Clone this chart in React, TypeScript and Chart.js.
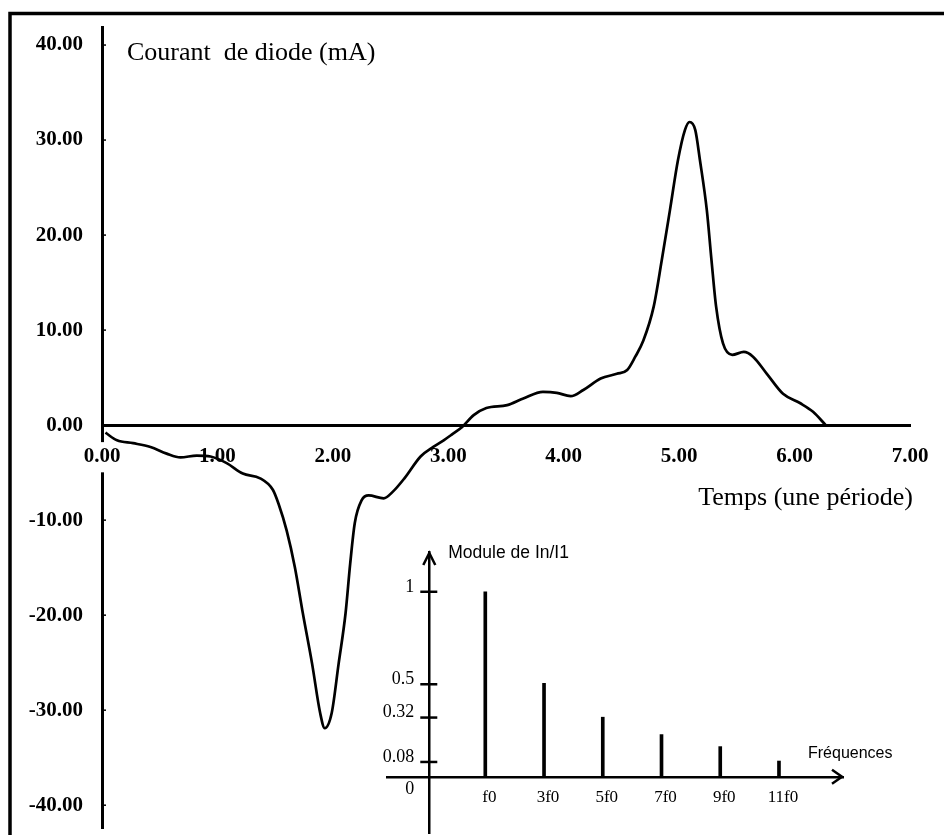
import React, { useEffect, useRef } from 'react';
import { Chart, registerables } from 'chart.js';

Chart.register(...registerables);

// ---- Main waveform data (time in periods, current in mA) ----
const timeValues = [
  0.03, 0.13, 0.27, 0.42, 0.56, 0.68, 0.82, 0.94, 1.08, 1.22, 1.37, 1.48, 1.53, 1.6, 1.67, 1.74, 1.82,
  1.89, 1.93, 1.99, 2.05, 2.11, 2.15, 2.19, 2.25, 2.31, 2.44, 2.52, 2.62, 2.76, 2.87, 2.96, 3.03, 3.12,
  3.22, 3.33, 3.51, 3.65, 3.82, 3.94, 4.06, 4.17, 4.32, 4.46, 4.55, 4.62, 4.69, 4.78, 4.85, 4.92, 4.99,
  5.05, 5.09, 5.14, 5.18, 5.24, 5.28, 5.32, 5.38, 5.46, 5.56, 5.64, 5.76, 5.9, 6.05, 6.16, 6.27,
];
const currentValues = [
  -0.8, -1.6, -1.9, -2.3, -3.0, -3.4, -3.2, -3.3, -4.0, -5.1, -5.6, -6.8, -8.3, -11.1, -14.9, -19.8, -25.1,
  -30.3, -31.9, -30.3, -25.1, -19.8, -14.6, -10.3, -7.9, -7.4, -7.7, -7.0, -5.6, -3.3, -2.3, -1.6, -1.0, -0.2,
  1.05, 1.8, 2.1, 2.8, 3.5, 3.4, 3.05, 3.7, 4.9, 5.4, 5.8, 7.2, 8.9, 12.5, 17.4, 22.6, 27.9,
  31.05, 31.9, 31.05, 27.9, 22.6, 17.4, 12.5, 8.6, 7.4, 7.7, 7.2, 5.4, 3.3, 2.3, 1.4, 0.0,
];
const xTickValues = [0, 1, 2, 3, 4, 5, 6, 7];
const yTickValues = [-40, -30, -20, -10, 0, 10, 20, 30, 40];
const chartTitle = 'Courant  de diode (mA)';
const xAxisTitle = 'Temps (une période)';

// ---- Inset spectrum data ----
const harmonicOrders = [1, 3, 5, 7, 9, 11];
const harmonicLabels = ['f0', '3f0', '5f0', '7f0', '9f0', '11f0'];
const harmonicModules = [1.0, 0.505, 0.322, 0.228, 0.163, 0.085];
const moduleTickValues = [0, 0.08, 0.32, 0.5, 1];
const moduleTickLabels = ['0', '0.08', '0.32', '0.5', '1'];
const insetYTitle = 'Module de In/I1';
const insetXTitle = 'Fréquences';

const SERIF = '"Liberation Serif", "Times New Roman", serif';
const SANS = '"Liberation Sans", Arial, sans-serif';
const INSET_Y_CROSS = -0.907;

export default function App() {
  const mainRef = useRef<HTMLCanvasElement>(null);
  const insetRef = useRef<HTMLCanvasElement>(null);

  useEffect(() => {
    if (!mainRef.current || !insetRef.current) return;

    const mainDecor = {
      id: 'mainDecor',
      beforeDraw(chart: any) {
        const ctx = chart.ctx;
        ctx.save();
        ctx.fillStyle = '#fff';
        ctx.fillRect(0, 0, chart.width, chart.height);
        ctx.strokeStyle = '#000';
        ctx.lineWidth = 3.5;
        ctx.beginPath();
        ctx.moveTo(10, chart.height);
        ctx.lineTo(10, 13.5);
        ctx.lineTo(chart.width, 13.5);
        ctx.stroke();
        ctx.restore();
      },
      afterDraw(chart: any) {
        const { ctx } = chart;
        const x = chart.scales.x;
        const y = chart.scales.y;
        ctx.save();
        ctx.fillStyle = '#000';
        ctx.strokeStyle = '#000';
        ctx.font = `26px ${SERIF}`;
        ctx.textAlign = 'left';
        ctx.textBaseline = 'alphabetic';
        ctx.fillText(chartTitle, x.getPixelForValue(0) + 25, 60);
        ctx.textAlign = 'right';
        ctx.fillText(xAxisTitle, x.getPixelForValue(7) + 3, 505);
        const ax = x.getPixelForValue(0);
        ctx.lineWidth = 1.5;
        yTickValues.forEach((v) => {
          const py = y.getPixelForValue(v);
          ctx.beginPath();
          ctx.moveTo(ax, py);
          ctx.lineTo(ax + 4, py);
          ctx.stroke();
        });
        ctx.restore();
      },
    };

    const mainChart = new Chart(mainRef.current, {
      type: 'line',
      data: {
        datasets: [
          {
            data: timeValues.map((t, i) => ({ x: t, y: currentValues[i] })),
            borderColor: '#000',
            borderWidth: 2.7,
            pointRadius: 0,
            fill: false,
            cubicInterpolationMode: 'monotone',
          } as any,
        ],
      },
      options: {
        responsive: false,
        animation: false,
        devicePixelRatio: 1,
        layout: { padding: { left: 0, right: 34, top: 27, bottom: 7 } },
        plugins: { legend: { display: false }, tooltip: { enabled: false } },
        scales: {
          x: {
            type: 'linear',
            min: 0,
            max: 7,
            position: { y: 0 } as any,
            grid: { display: false, drawTicks: false },
            border: { display: true, color: '#000', width: 3 },
            afterBuildTicks: (s: any) => {
              s.ticks = xTickValues.map((value) => ({ value }));
            },
            afterFit: (s: any) => {
              s.paddingLeft = 0;
              s.paddingRight = 0;
            },
            ticks: {
              autoSkip: false,
              maxRotation: 0,
              color: '#000',
              padding: 19,
              font: { family: SERIF, size: 21, weight: 'bold' },
              callback: (v: any) => Number(v).toFixed(2),
              showLabelBackdrop: true,
              backdropColor: (ctx: any) => (ctx.tick && ctx.tick.value === 0 ? '#ffffff' : 'rgba(0,0,0,0)'),
              backdropPadding: { top: 2, bottom: 3, left: 1, right: 1 },
            } as any,
          },
          y: {
            type: 'linear',
            min: -42.4,
            max: 41.9,
            position: 'left',
            grid: { display: false, drawTicks: false },
            border: { display: true, color: '#000', width: 3, z: -0.5 } as any,
            afterBuildTicks: (s: any) => {
              s.ticks = yTickValues.map((value) => ({ value }));
            },
            afterFit: (s: any) => {
              s.width = 102;
              s.paddingTop = 0;
              s.paddingBottom = 0;
            },
            ticks: {
              autoSkip: false,
              color: '#000',
              padding: 19,
              font: { family: SERIF, size: 21, weight: 'bold' },
              callback: (v: any) => Number(v).toFixed(2),
            },
          },
        },
      },
      plugins: [mainDecor],
    } as any);

    const insetDecor = {
      id: 'insetDecor',
      afterDraw(chart: any) {
        const { ctx, chartArea } = chart;
        const x = chart.scales.x;
        const y = chart.scales.y;
        const ax = x.getPixelForValue(INSET_Y_CROSS);
        const ay = y.getPixelForValue(0);
        ctx.save();
        ctx.strokeStyle = '#000';
        ctx.fillStyle = '#000';
        ctx.lineWidth = 2.5;
        moduleTickValues.forEach((v) => {
          if (v === 0) return;
          const py = y.getPixelForValue(v);
          ctx.beginPath();
          ctx.moveTo(ax - 9, py);
          ctx.lineTo(ax + 8, py);
          ctx.stroke();
        });
        ctx.lineJoin = 'miter';
        ctx.beginPath();
        ctx.moveTo(ax - 6, chartArea.top + 13);
        ctx.lineTo(ax, chartArea.top + 1);
        ctx.lineTo(ax + 6, chartArea.top + 13);
        ctx.stroke();
        ctx.beginPath();
        ctx.moveTo(chartArea.right - 11, ay - 7);
        ctx.lineTo(chartArea.right - 1, ay);
        ctx.lineTo(chartArea.right - 11, ay + 7);
        ctx.stroke();
        ctx.font = `18px ${SERIF}`;
        ctx.textAlign = 'right';
        ctx.textBaseline = 'middle';
        moduleTickValues.forEach((v, i) => {
          const py = y.getPixelForValue(v);
          ctx.fillText(moduleTickLabels[i], ax - 15, v === 0 ? py + 13 : py - 5);
        });
        ctx.textAlign = 'left';
        ctx.font = `17.5px ${SANS}`;
        ctx.fillText(insetYTitle, ax + 19, chartArea.top + 1);
        ctx.font = `16px ${SANS}`;
        ctx.fillText(insetXTitle, chartArea.right - 35, ay - 23);
        ctx.restore();
      },
    };

    const insetChart = new Chart(insetRef.current, {
      type: 'bar',
      data: {
        datasets: [
          {
            data: harmonicOrders.map((n, i) => ({ x: n, y: harmonicModules[i] })),
            backgroundColor: '#000',
            borderWidth: 0,
            barThickness: 3,
          } as any,
        ],
      },
      options: {
        responsive: false,
        animation: false,
        devicePixelRatio: 1,
        layout: { padding: { left: 17, right: 101, top: 17, bottom: 2 } },
        plugins: { legend: { display: false }, tooltip: { enabled: false } },
        scales: {
          x: {
            type: 'linear',
            min: -2.347,
            max: 13.18,
            offset: false,
            position: { y: 0 } as any,
            grid: { display: false, drawTicks: false },
            border: { display: true, color: '#000', width: 2.5 },
            afterBuildTicks: (s: any) => {
              s.ticks = harmonicOrders.map((value) => ({ value }));
            },
            afterFit: (s: any) => {
              s.paddingLeft = 0;
              s.paddingRight = 0;
            },
            ticks: {
              autoSkip: false,
              maxRotation: 0,
              color: '#000',
              padding: 11,
              labelOffset: 4,
              font: { family: SERIF, size: 17 },
              callback: (v: any) => {
                const idx = harmonicOrders.indexOf(Number(v));
                return idx >= 0 ? harmonicLabels[idx] : '';
              },
            },
          },
          y: {
            type: 'linear',
            min: -0.304,
            max: 1.215,
            position: { x: INSET_Y_CROSS } as any,
            grid: { display: false, drawTicks: false },
            border: { display: true, color: '#000', width: 2.5 },
            afterBuildTicks: (s: any) => {
              s.ticks = moduleTickValues.map((value) => ({ value }));
            },
            afterFit: (s: any) => {
              s.paddingTop = 0;
              s.paddingBottom = 0;
            },
            ticks: { display: false },
          },
        },
      },
      plugins: [insetDecor],
    } as any);

    return () => {
      mainChart.destroy();
      insetChart.destroy();
    };
  }, []);

  return (
    <div style={{ position: 'absolute', left: 0, top: 0, width: 944, height: 835, background: '#fff' }}>
      <canvas
        ref={mainRef}
        width={944}
        height={835}
        style={{ position: 'absolute', left: 0, top: 0, width: 944, height: 835 }}
      />
      <canvas
        ref={insetRef}
        width={574}
        height={300}
        style={{ position: 'absolute', left: 370, top: 535, width: 574, height: 300 }}
      />
    </div>
  );
}
